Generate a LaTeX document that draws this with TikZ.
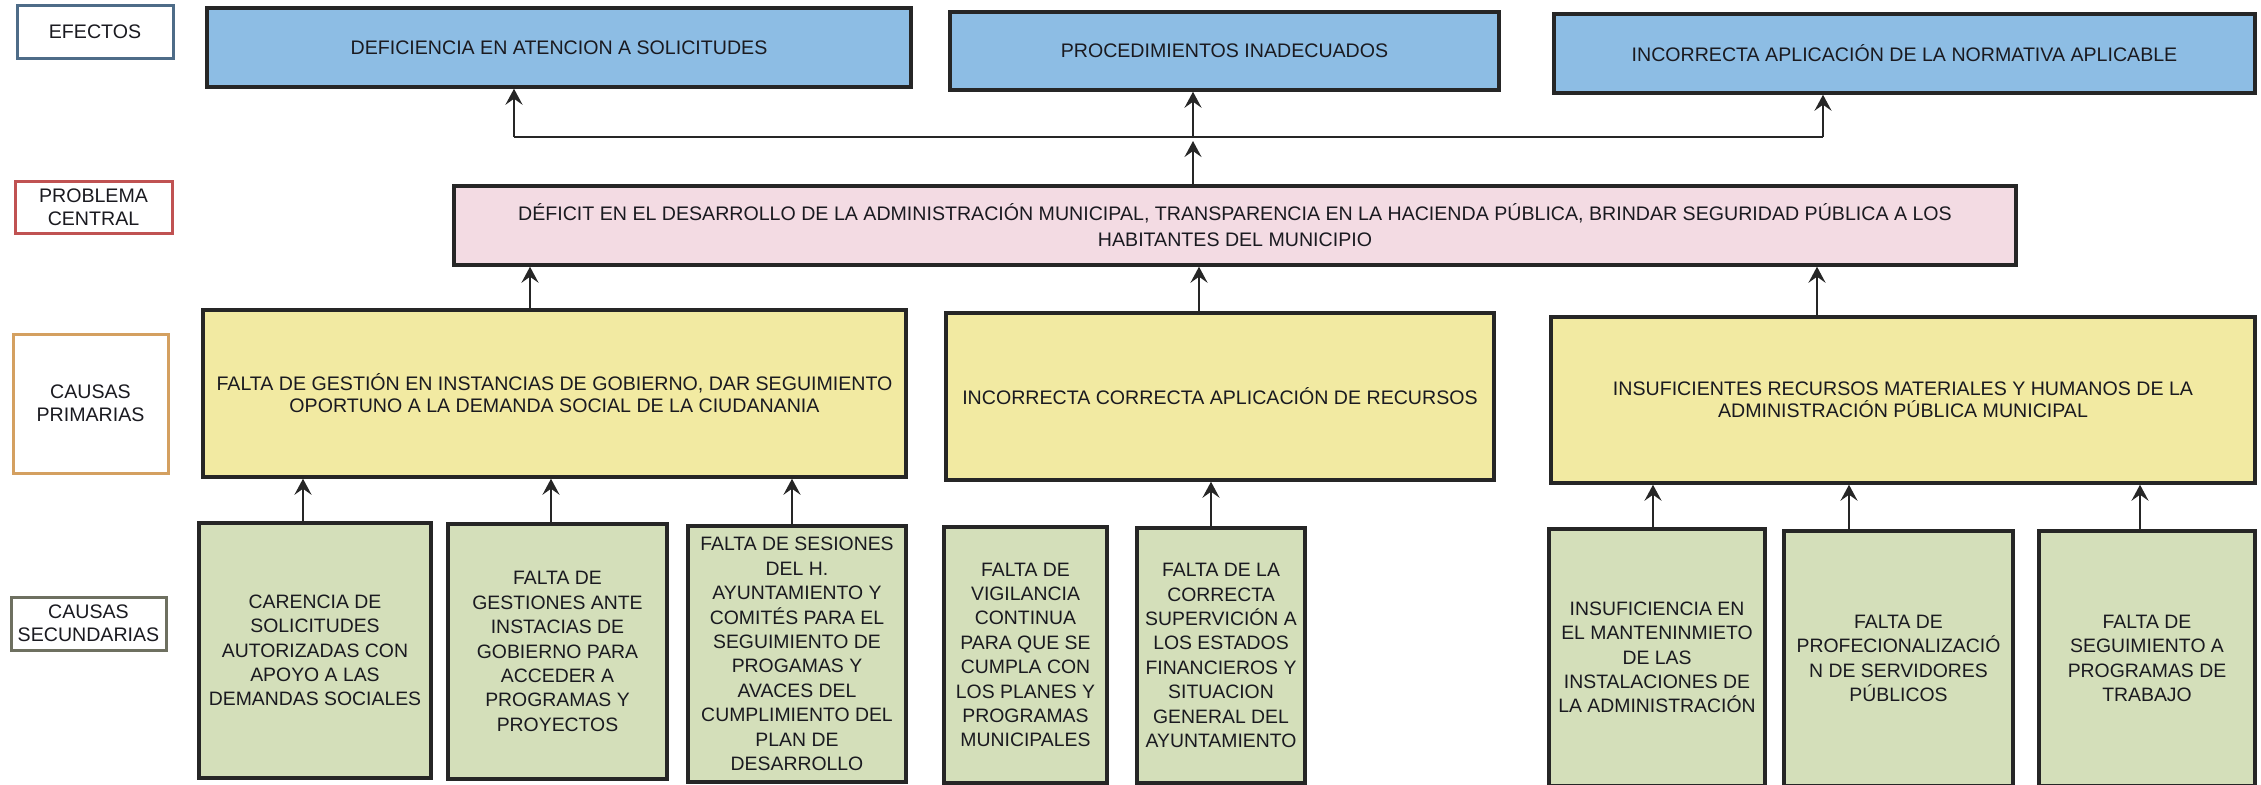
\documentclass[tikz,border=0pt]{standalone}
\usepackage{fontspec}
\setmainfont{Liberation Sans}
\usetikzlibrary{arrows.meta}
\definecolor{efblue}{RGB}{141,189,228}
\definecolor{prpink}{RGB}{243,219,227}
\definecolor{pcyellow}{RGB}{242,234,162}
\definecolor{scgreen}{RGB}{212,223,186}
\definecolor{edgecol}{RGB}{38,38,38}
\definecolor{txtcol}{RGB}{26,26,32}
\definecolor{labblue}{RGB}{78,108,136}
\definecolor{labred}{RGB}{192,82,82}
\definecolor{laborange}{RGB}{212,160,96}
\definecolor{labgray}{RGB}{110,112,96}
\tikzset{
  box/.style={draw=edgecol, line width=1.7pt, align=center, inner sep=1pt, text=txtcol},
  effbox/.style={box, fill=efblue, font=\fontsize{9.8}{12.5}\selectfont},
  probbox/.style={box, fill=prpink, font=\fontsize{9.8}{13}\selectfont},
  primbox/.style={box, fill=pcyellow, font=\fontsize{9.8}{11}\selectfont},
  secbox/.style={box, fill=scgreen, inner xsep=0pt, font=\fontsize{9.7}{12.2}\selectfont},
  labbox/.style={draw, line width=1.5pt, fill=white, align=center, inner sep=1pt, text=txtcol, font=\fontsize{9.8}{11.7}\selectfont},
  conn/.style={draw=edgecol, line width=1.4pt},
  arr/.style={conn, -{Stealth[length=8pt,width=8.5pt,inset=3pt]}}
}
\begin{document}
\begin{tikzpicture}[x=0.5pt,y=-0.5pt]
\useasboundingbox (0,0) rectangle (2261,784);
% labels column
\node[labbox, draw=labblue, minimum width=78pt, minimum height=26.5pt] (L1) at (95,31.5) {EFECTOS};
\node[labbox, draw=labred, minimum width=78.5pt, minimum height=26pt] (L2) at (93.5,207) {PROBLEMA\\CENTRAL};
\node[labbox, draw=laborange, minimum width=77.5pt, minimum height=69.5pt] (L3) at (90.5,403.5) {CAUSAS\\PRIMARIAS};
\node[labbox, draw=labgray, minimum width=77.5pt, minimum height=26.5pt] (L4) at (88.5,623.5) {CAUSAS\\SECUNDARIAS};
% effects
\node[effbox, minimum width=352pt, minimum height=39.5pt] (E1) at (559,47.5) {DEFICIENCIA EN ATENCION A SOLICITUDES};
\node[effbox, minimum width=274.5pt, minimum height=39pt] (E2) at (1224.5,51) {PROCEDIMIENTOS INADECUADOS};
\node[effbox, minimum width=350.5pt, minimum height=39.5pt] (E3) at (1904.5,53.5) {INCORRECTA APLICACIÓN DE LA NORMATIVA APLICABLE};
% central problem
\node[probbox, minimum width=781pt, minimum height=39.5pt] (PR) at (1235,225.5) {DÉFICIT EN EL DESARROLLO DE LA ADMINISTRACIÓN MUNICIPAL, TRANSPARENCIA EN LA HACIENDA PÚBLICA, BRINDAR SEGURIDAD PÚBLICA A LOS\\HABITANTES DEL MUNICIPIO};
% primary causes
\node[primbox, minimum width=351.5pt, minimum height=83.5pt] (P1) at (554.5,393.5) {FALTA DE GESTIÓN EN INSTANCIAS DE GOBIERNO, DAR SEGUIMIENTO\\OPORTUNO A LA DEMANDA SOCIAL DE LA CIUDANANIA};
\node[primbox, minimum width=274pt, minimum height=83.5pt] (P2) at (1220,396.5) {INCORRECTA CORRECTA APLICACIÓN DE RECURSOS};
\node[primbox, minimum width=352pt, minimum height=83pt] (P3) at (1903,400) {INSUFICIENTES RECURSOS MATERIALES Y HUMANOS DE LA\\ADMINISTRACIÓN PÚBLICA MUNICIPAL};
% secondary causes
\node[secbox, minimum width=116pt, minimum height=127.5pt] (S1) at (315,650.5) {CARENCIA DE\\SOLICITUDES\\AUTORIZADAS CON\\APOYO A LAS\\DEMANDAS SOCIALES};
\node[secbox, minimum width=109.5pt, minimum height=127.5pt] (S2) at (557.5,651.5) {FALTA DE\\GESTIONES ANTE\\INSTACIAS DE\\GOBIERNO PARA\\ACCEDER A\\PROGRAMAS Y\\PROYECTOS};
\node[secbox, minimum width=109pt, minimum height=128pt] (S3) at (797,654) {FALTA DE SESIONES\\DEL H.\\AYUNTAMIENTO Y\\COMITÉS PARA EL\\SEGUIMIENTO DE\\PROGAMAS Y\\AVACES DEL\\CUMPLIMIENTO DEL\\PLAN DE\\DESARROLLO};
\node[secbox, minimum width=81.5pt, minimum height=128pt] (S4) at (1025.5,655) {FALTA DE\\VIGILANCIA\\CONTINUA\\PARA QUE SE\\CUMPLA CON\\LOS PLANES Y\\PROGRAMAS\\MUNICIPALES};
\node[secbox, minimum width=84pt, minimum height=127.5pt] (S5) at (1221,655.5) {FALTA DE LA\\CORRECTA\\SUPERVICIÓN A\\LOS ESTADOS\\FINANCIEROS Y\\SITUACION\\GENERAL DEL\\AYUNTAMIENTO};
\node[secbox, minimum width=108pt, minimum height=128.5pt] (S6) at (1657,657.5) {INSUFICIENCIA EN\\EL MANTENINMIETO\\DE LAS\\INSTALACIONES DE\\LA ADMINISTRACIÓN};
\node[secbox, minimum width=114.5pt, minimum height=127.5pt] (S7) at (1898.5,658.5) {FALTA DE\\PROFECIONALIZACIÓ\\N DE SERVIDORES\\PÚBLICOS};
\node[secbox, minimum width=108pt, minimum height=127.5pt] (S8) at (2147,658.5) {FALTA DE\\SEGUIMIENTO A\\PROGRAMAS DE\\TRABAJO};
% connector x positions
\coordinate (hl) at (514,137);
\coordinate (hm) at (1193,137);
\coordinate (hr) at (1823,137);
\coordinate (hmb) at (1193,141);
\coordinate (a1) at (530,0);
\coordinate (a2) at (1199,0);
\coordinate (a3) at (1817,0);
\coordinate (b1) at (303,0);
\coordinate (b2) at (551,0);
\coordinate (b3) at (792,0);
\coordinate (b5) at (1211,0);
\coordinate (b6) at (1653,0);
\coordinate (b7) at (1849,0);
\coordinate (b8) at (2140,0);
% effects connectors
\draw[conn] (hl) -- (hr);
\draw[arr] (hl) -- (E1.south -| hl);
\draw[arr] (hm) -- (E2.south -| hm);
\draw[arr] (hr) -- (E3.south -| hr);
\draw[arr] (PR.north -| hm) -- (hmb);
% primary to problem
\draw[arr] (P1.north -| a1) -- (PR.south -| a1);
\draw[arr] (P2.north -| a2) -- (PR.south -| a2);
\draw[arr] (P3.north -| a3) -- (PR.south -| a3);
% secondary to primary
\draw[arr] (S1.north -| b1) -- (P1.south -| b1);
\draw[arr] (S2.north -| b2) -- (P1.south -| b2);
\draw[arr] (S3.north -| b3) -- (P1.south -| b3);
\draw[arr] (S5.north -| b5) -- (P2.south -| b5);
\draw[arr] (S6.north -| b6) -- (P3.south -| b6);
\draw[arr] (S7.north -| b7) -- (P3.south -| b7);
\draw[arr] (S8.north -| b8) -- (P3.south -| b8);
\end{tikzpicture}
\end{document}
